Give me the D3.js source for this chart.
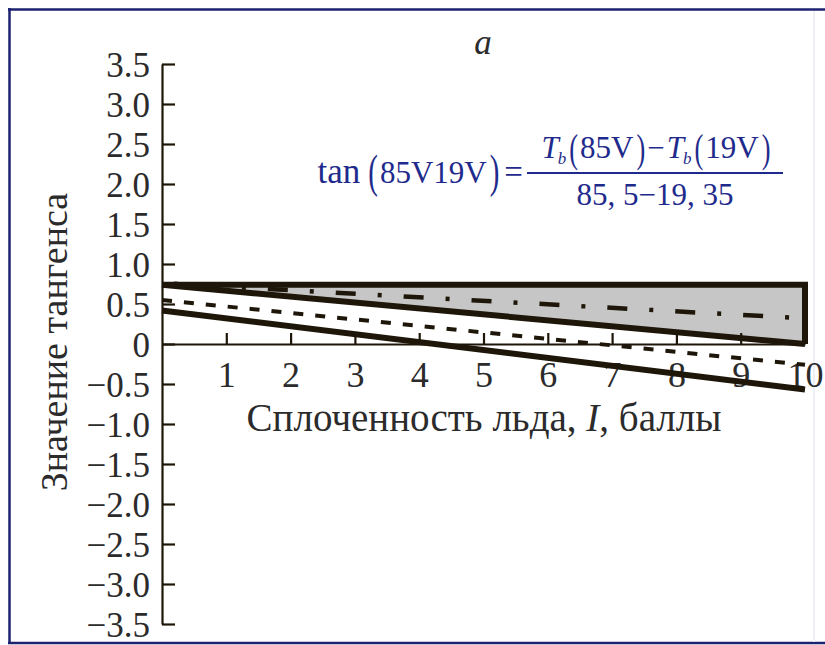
<!DOCTYPE html>
<html>
<head>
<meta charset="utf-8">
<script src="https://cdn.jsdelivr.net/npm/d3@7"></script>
<style>
  html, body { margin: 0; padding: 0; background: #fff; }
  svg { display: block; }
  text { font-family: "Liberation Serif", "DejaVu Serif", serif; }
</style>
</head>
<body>
<svg id="chart" width="825" height="645"></svg>
<script>
// ---- data ----
const concentration = [0, 10];            // ice concentration, I, points
const shadedUpper   = [0.74, 0.74];       // top edge of shaded band
const shadedLower   = [0.74, 0.00];       // lower edge of shaded band
const dashDotLine   = [0.76, 0.32];
const dashedLine    = [0.55, -0.26];
const lowerLine     = [0.42, -0.57];
const xTicks = [1, 2, 3, 4, 5, 6, 7, 8, 9, 10];
const yTicks = [3.5, 3.0, 2.5, 2.0, 1.5, 1.0, 0.5, 0, -0.5, -1.0, -1.5, -2.0, -2.5, -3.0, -3.5];

const svg = d3.select("#chart");
const W = 825, H = 645;
const ink = "#1e1609";
const textCol = "#2b2b2b";
const navy = "#1c2270";
const formulaCol = "#1f2b8c";
const serif = "'Liberation Serif', 'DejaVu Serif', serif";

svg.append("rect").attr("width", W).attr("height", H).attr("fill", "#fff");

// frame
svg.append("line").attr("x1", 8).attr("x2", W).attr("y1", 9.5).attr("y2", 9.5).attr("stroke", navy).attr("stroke-width", 2.5);
svg.append("line").attr("x1", 9.5).attr("x2", 9.5).attr("y1", 8).attr("y2", 644).attr("stroke", navy).attr("stroke-width", 2.5);
svg.append("line").attr("x1", 8).attr("x2", W).attr("y1", 643).attr("y2", 643).attr("stroke", navy).attr("stroke-width", 2.5);
svg.append("line").attr("x1", 814).attr("x2", 814).attr("y1", 11).attr("y2", 642).attr("stroke", "#eef0f6").attr("stroke-width", 2);

const x = d3.scaleLinear().domain([0, 10]).range([162, 805]);
const y = d3.scaleLinear().domain([-3.5, 3.5]).range([624, 64]);

const pts = arr => concentration.map((c, i) => [c, arr[i]]);
const line = d3.line().x(d => x(d[0])).y(d => y(d[1]));

// shaded band
const area = d3.area()
  .x(d => x(d[0]))
  .y0(d => y(d[2]))
  .y1(d => y(d[1]));
svg.append("path")
  .datum(concentration.map((c, i) => [c, shadedUpper[i], shadedLower[i]]))
  .attr("d", area)
  .attr("fill", "#c6c6c6");

// axes
const fmt = v => v === 0 ? "0" : (v < 0 ? "\u2212" + Math.abs(v).toFixed(1) : v.toFixed(1));
const yAxis = svg.append("g").attr("transform", `translate(${x(0)},0)`)
  .call(d3.axisLeft(y).tickValues(yTicks).tickSizeInner(-13).tickSizeOuter(0).tickPadding(12).tickFormat(fmt));
const xAxis = svg.append("g").attr("transform", `translate(0,${y(0)})`)
  .call(d3.axisBottom(x).tickValues(xTicks).tickSizeInner(-11).tickSizeOuter(0).tickPadding(17).tickFormat(d3.format("d")));
[yAxis, xAxis].forEach(g => {
  g.attr("font-family", serif);
  g.select(".domain").attr("stroke", ink).attr("stroke-width", 2.2);
  g.selectAll(".tick line").attr("stroke", ink).attr("stroke-width", 2.2);
  g.selectAll(".tick text").attr("fill", textCol).style("font-family", serif);
});
yAxis.selectAll(".tick text").style("font-size", "35px").attr("dy", "0.35em");
xAxis.selectAll(".tick text").style("font-size", "36px");

// series lines
svg.append("path").datum(pts(dashDotLine)).attr("d", line)
  .attr("fill", "none").attr("stroke", ink).attr("stroke-width", 4.5)
  .attr("stroke-dasharray", "20 22 4 22").attr("stroke-dashoffset", 30);
svg.append("path").datum(pts(dashedLine)).attr("d", line)
  .attr("fill", "none").attr("stroke", ink).attr("stroke-width", 4)
  .attr("stroke-dasharray", "10 12");
svg.append("path").datum(pts(lowerLine)).attr("d", line)
  .attr("fill", "none").attr("stroke", ink).attr("stroke-width", 6);
svg.append("path").datum(pts(shadedLower)).attr("d", line)
  .attr("fill", "none").attr("stroke", ink).attr("stroke-width", 6);
svg.append("path")
  .datum([[concentration[0], shadedUpper[0]], [concentration[1], shadedUpper[1]], [concentration[1], shadedLower[1]]])
  .attr("d", line)
  .attr("fill", "none").attr("stroke", ink).attr("stroke-width", 6).attr("stroke-linejoin", "miter");

// axis titles
svg.append("text").attr("x", 484).attr("y", 431).attr("text-anchor", "middle")
  .style("font-size", "39px").attr("fill", textCol)
  .call(t => {
    t.append("tspan").text("Сплоченность льда, ");
    t.append("tspan").style("font-style", "italic").text("I");
    t.append("tspan").text(", баллы");
  });
svg.append("text").attr("transform", "translate(67,342) rotate(-90)").attr("text-anchor", "middle")
  .style("font-size", "38px").attr("fill", textCol).text("Значение тангенса");

// panel letter
svg.append("text").attr("x", 483).attr("y", 54).attr("text-anchor", "middle")
  .style("font-size", "35px").style("font-style", "italic").attr("fill", textCol).text("a");

// formula: pieces laid out one after another, measured
const F = svg.append("g").attr("fill", formulaCol);
function row(parent, baseline, pieces) {
  const g = parent.append("g");
  let cx = 0;
  pieces.forEach(p => {
    cx += p.gap || 0;
    const t = g.append("text").style("font-size", p.size + "px").text(p.t);
    if (p.italic) t.style("font-style", "italic");
    let w;
    if (p.sy) {
      t.attr("transform", `translate(${cx},${baseline + (p.dy || 0)}) scale(${p.sx || 1},${p.sy})`);
      w = t.node().getComputedTextLength() * (p.sx || 1);
    } else {
      t.attr("x", cx).attr("y", baseline + (p.dy || 0));
      w = t.node().getComputedTextLength();
    }
    cx += w;
  });
  return { g, width: cx };
}
// left side
const lhs = row(F, 183, [
  { t: "tan", size: 35 },
  { t: "(", size: 34, sx: 0.85, sy: 1.35, dy: 4, gap: 8 },
  { t: "85V19V", size: 31, gap: 2 },
  { t: ")", size: 34, sx: 0.85, sy: 1.35, dy: 4, gap: 3 },
  { t: "=", size: 33, gap: 5 }
]);
lhs.g.attr("transform", `translate(${523 - lhs.width},0)`);
F.append("line").attr("x1", 527).attr("x2", 783).attr("y1", 173).attr("y2", 173)
  .attr("stroke", formulaCol).attr("stroke-width", 2);
const num = row(F, 158, [
  { t: "T", size: 31, italic: true },
  { t: "b", size: 17, italic: true, dy: 6, gap: -1 },
  { t: "(", size: 31, sx: 0.85, sy: 1.3, dy: 4, gap: 3 },
  { t: "85V", size: 31, gap: 2 },
  { t: ")", size: 31, sx: 0.85, sy: 1.3, dy: 4, gap: 3 },
  { t: "\u2212", size: 31, gap: 2 },
  { t: "T", size: 31, italic: true, gap: 2 },
  { t: "b", size: 17, italic: true, dy: 6, gap: -1 },
  { t: "(", size: 31, sx: 0.85, sy: 1.3, dy: 4, gap: 3 },
  { t: "19V", size: 31, gap: 2 },
  { t: ")", size: 31, sx: 0.85, sy: 1.3, dy: 4, gap: 3 }
]);
num.g.attr("transform", `translate(${656 - num.width / 2},0)`);
F.append("text").attr("x", 655).attr("y", 205).attr("text-anchor", "middle")
  .style("font-size", "31px").text("85, 5\u221219, 35");
</script>
</body>
</html>
